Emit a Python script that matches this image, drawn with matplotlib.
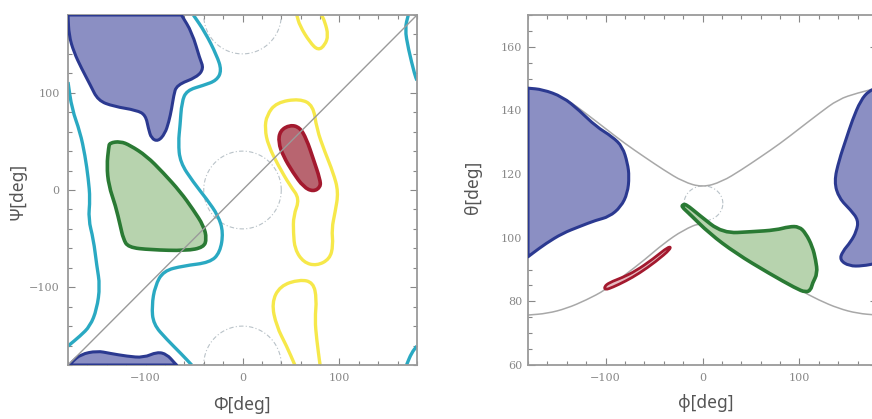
import numpy as np
import matplotlib
matplotlib.use("Agg")
import matplotlib.pyplot as plt
from matplotlib.ticker import MultipleLocator
from matplotlib.path import Path
from matplotlib.patches import PathPatch

# ---------------- Left panel: (Phi, Psi) in degrees ----------------
blue_top = [(-180, 180), (-63, 180), (-52, 162), (-44, 135), (-40, 125), (-47, 116),
            (-68, 108), (-71, 97), (-73, 84), (-76, 70), (-80, 58), (-87, 50),
            (-94, 53), (-97, 63), (-100, 77), (-109, 82), (-133, 86), (-149, 92),
            (-157, 108), (-166, 125), (-174, 142), (-179, 159)]
blue_bottom = [(-178, -180), (-176, -177), (-167, -169), (-150, -165.5), (-137, -168),
               (-119, -171), (-102, -172.5), (-88, -166.5), (-78, -169), (-70, -178), (-68, -180)]
green_left = [(-137, 48.5), (-126, 50), (-116, 46), (-99, 35), (-82, 18), (-64, -2),
              (-51, -20), (-40, -37), (-37, -50), (-40, -59), (-58, -62.5), (-95, -61.5),
              (-118, -59), (-123, -50), (-126, -37), (-131, -16), (-138, 4.5), (-140, 25),
              (-138, 44)]
red_left = [(49, 67), (59, 64.5), (66, 52.5), (73, 32), (80, 11), (80.5, 3), (73, -1.7),
            (63, 3), (52, 18), (42, 35), (37, 49), (38.7, 61)]
yellow_mid = [(25, 77), (35, 90), (59, 94), (73, 87), (76.5, 63), (85, 39), (93.5, 18),
              (99, -2), (95.5, -23), (92, -40), (93.5, -57), (90, -71), (76.5, -78),
              (63, -74.5), (54, -61), (52.5, -44), (52.5, -26.5), (59, -9), (49, 4.5),
              (37, 25), (26.5, 46), (23, 63)]
yellow_top = [(56, 180), (59, 169), (69.5, 152), (78, 143.5), (85, 149), (88.5, 159),
              (85, 173), (81.5, 180)]
yellow_bottom = [(54, -180), (45.5, -160.5), (35, -140), (30, -116), (38.7, -98.6),
                 (59, -92), (73, -95), (76.5, -112), (74.7, -133), (76.5, -153.6), (80, -180)]
cyan_left = [(-180, 111), (-176, 83.5), (-167.5, 59.5), (-162.4, 35.4), (-159, 11.3),
             (-157.2, -9.3), (-159, -30), (-153.8, -50.5), (-150.3, -78), (-147, -98.6),
             (-150.3, -122.7), (-157.2, -140), (-167.5, -150.2), (-180, -160.5)]
cyan_mid = [(-50.7, 180), (-38.7, 162.5), (-26.6, 138.5), (-21.5, 123), (-26.6, 112.7),
            (-40.4, 107.6), (-57.6, 102.4), (-62.7, 90.4), (-64.4, 66.3), (-66.2, 49),
            (-64.4, 28.5), (-50.7, 8), (-37, -9.3), (-25, -26.5), (-19.8, -43.6),
            (-23.2, -64.3), (-33.5, -74.6), (-61, -78), (-81.6, -83.2), (-90.2, -98.6),
            (-93.6, -119.2), (-92, -138), (-78.2, -153.6), (-62.7, -169), (-52.4, -180)]
cyan_right_top = [(171, 180), (167.5, 166), (171, 145.4), (177.8, 118), (180, 112.7)]
cyan_right_bottom = [(180, -160.5), (174.4, -167.4), (169.2, -180)]
circle_centers = [(0, 0), (0, 180), (0, -180)]
circle_radius = 40
diagonal = [(-180, -180), (180, 180)]

# ---------------- Right panel: (phi, theta) in degrees ----------------
bound_phi = [-180, -160, -140, -120, -100, -80, -60, -40, -20, 0,
             20, 40, 60, 80, 100, 120, 140, 160, 180]
bound_upper = [147, 145.5, 143.5, 139, 134.3, 129.6, 125.4, 121.3, 117.6, 115.8,
               117.6, 121.3, 125.4, 129.6, 134.3, 139, 143.5, 145.5, 147]
bound_lower = [75.7, 76.2, 77.8, 80.4, 83.6, 88.3, 93, 98.2, 102.4, 105,
               102.4, 98.2, 93, 88.3, 83.6, 80.4, 77.8, 76.2, 75.7]
blue_r_left = [(-180, 147), (-165, 146.6), (-144.3, 144.3), (-127, 140), (-110, 135),
               (-92.8, 131.7), (-82.5, 128.6), (-77.3, 123.4), (-75.6, 119.2),
               (-77.3, 114), (-84.2, 109.7), (-96.2, 106.6), (-110, 105.5),
               (-127, 103.5), (-144.3, 101.4), (-161.5, 98.2), (-175.3, 95.1), (-180, 94)]
blue_r_right = [(180, 147), (171.8, 146.2), (163.2, 143.2), (154.6, 137), (147.8, 130.7),
                (140.9, 124.4), (135.7, 117.6), (140.9, 112.4), (152.9, 108.7),
                (160.8, 105.5), (158.8, 102), (152.9, 98.7), (144.3, 95.6), (141.6, 93),
                (151.2, 91.1), (165, 91.1), (180, 92)]
red_right = [(-101.4, 84.6), (-96.2, 85.9), (-82.5, 87.5), (-68.7, 89.6), (-51.5, 93.2),
             (-34.4, 97.4), (-32.3, 96.6), (-48.1, 92.5), (-65.3, 88.8), (-79, 86.4),
             (-92.8, 84.4), (-100.3, 83.6)]
green_right = [(-20.6, 110.3), (-17.2, 110.6), (-3.4, 107.1), (20.6, 101.4), (51.5, 101.9),
               (75.6, 102.4), (89.3, 103.5), (99.7, 103.5), (106.5, 101.4), (113.4, 97.2),
               (116.8, 93), (118.6, 88.8), (113.4, 85.7), (111.7, 83.6), (106.5, 82.8),
               (96.2, 84.1), (68.7, 88.8), (34.4, 95.1), (6.9, 101.4), (-13.7, 107.6),
               (-21.3, 109.7)]
ellipse_center = (1, 110.8)
ellipse_radii = (20, 5.5)

# ---------------- styles ----------------
BLUE_F, BLUE_E = '#8b8fc3', '#2b3990'
GREEN_F, GREEN_E = '#b7d3ae', '#2a7a34'
RED_F, RED_E = '#b86570', '#a3192e'
CYAN = '#2aa9c2'
YELLOW = '#f6e84a'
GREY = '#a8a8a8'
CIRC = '#b9c2c8'
TICKC = '#888888'
LABC = '#555555'

fig = plt.figure(figsize=(8.72, 4.19), dpi=100)
ax1 = fig.add_axes([68/872, 54/419, 349/872, 350/419])
ax2 = fig.add_axes([528/872, 54/419, 349/872, 350/419])


def smooth_path(pts, closed, is_corner):
    """Quadratic-Bezier path through the midpoints of the read vertices;
    vertices on the plot frame are kept as sharp corners."""
    P = [np.asarray(p, float) for p in pts]
    Q = []
    for p in P:
        Q.append(p)
        if is_corner(p):
            Q.append(p)
    n = len(Q)
    verts, codes = [], []
    if closed:
        start = (Q[-1] + Q[0]) / 2
        verts.append(start); codes.append(Path.MOVETO)
        for i in range(n):
            nxt = Q[(i + 1) % n]
            verts += [Q[i], (Q[i] + nxt) / 2]
            codes += [Path.CURVE3, Path.CURVE3]
        verts.append(start); codes.append(Path.CLOSEPOLY)
    else:
        verts.append(Q[0]); codes.append(Path.MOVETO)
        verts.append((Q[0] + Q[1]) / 2); codes.append(Path.LINETO)
        for i in range(1, n - 1):
            verts += [Q[i], (Q[i] + Q[i + 1]) / 2]
            codes += [Path.CURVE3, Path.CURVE3]
        verts.append(Q[-1]); codes.append(Path.LINETO)
    return Path(np.array(verts), codes)


def corner_left(p):
    return abs(p[0]) >= 180 or abs(p[1]) >= 180


def corner_right(p):
    return abs(p[0]) >= 180


def region(ax, pts, fc, ec, corner, lw=2.2):
    path = smooth_path(pts, True, corner)
    ax.add_patch(PathPatch(path, facecolor=fc, edgecolor=ec, lw=lw, zorder=3,
                           joinstyle='round'))


def loop(ax, pts, c, corner, lw=2.4):
    path = smooth_path(pts, True, corner)
    ax.add_patch(PathPatch(path, facecolor='none', edgecolor=c, lw=lw, zorder=2))


def line(ax, pts, c, corner, lw=2.4, z=2):
    path = smooth_path(pts, False, corner)
    ax.add_patch(PathPatch(path, facecolor='none', edgecolor=c, lw=lw, zorder=z,
                           capstyle='butt', joinstyle='round'))


# left panel
t = np.linspace(0, 2*np.pi, 200)
for cx, cy in circle_centers:
    ax1.plot(cx + circle_radius*np.cos(t), cy + circle_radius*np.sin(t), color=CIRC,
             lw=0.8, ls=(0, (4, 2, 1, 2)), zorder=1)
dx, dy = zip(*diagonal)
ax1.plot(dx, dy, color='#9a9a9a', lw=1.0, zorder=4)
for pts in (cyan_left, cyan_mid, cyan_right_top, cyan_right_bottom):
    line(ax1, pts, CYAN, corner_left)
loop(ax1, yellow_mid, YELLOW, corner_left)
for pts in (yellow_top, yellow_bottom):
    line(ax1, pts, YELLOW, corner_left)
region(ax1, blue_top, BLUE_F, BLUE_E, corner_left)
region(ax1, blue_bottom, BLUE_F, BLUE_E, corner_left)
region(ax1, green_left, GREEN_F, GREEN_E, corner_left, lw=2.6)
region(ax1, red_left, RED_F, RED_E, corner_left, lw=2.6)
ax1.set_xlim(-180, 180)
ax1.set_ylim(-180, 180)
ax1.xaxis.set_major_locator(MultipleLocator(100))
ax1.xaxis.set_minor_locator(MultipleLocator(20))
ax1.yaxis.set_major_locator(MultipleLocator(100))
ax1.yaxis.set_minor_locator(MultipleLocator(20))

# right panel
line(ax2, list(zip(bound_phi, bound_upper)), GREY, corner_right, lw=1.1)
line(ax2, list(zip(bound_phi, bound_lower)), GREY, corner_right, lw=1.1)
ax2.plot(ellipse_center[0] + ellipse_radii[0]*np.cos(t),
         ellipse_center[1] + ellipse_radii[1]*np.sin(t),
         color=CIRC, lw=0.8, ls=(0, (4, 2, 1, 2)), zorder=1)
region(ax2, blue_r_left, BLUE_F, BLUE_E, corner_right)
region(ax2, blue_r_right, BLUE_F, BLUE_E, corner_right)
region(ax2, red_right, '#e6b9bf', RED_E, corner_right, lw=2.0)
region(ax2, green_right, GREEN_F, GREEN_E, corner_right, lw=2.6)
ax2.set_xlim(-180, 180)
ax2.set_ylim(60, 170)
ax2.xaxis.set_major_locator(MultipleLocator(100))
ax2.xaxis.set_minor_locator(MultipleLocator(20))
ax2.yaxis.set_major_locator(MultipleLocator(20))
ax2.yaxis.set_minor_locator(MultipleLocator(5))

for ax, ypad in ((ax1, 6), (ax2, 4)):
    for s in ax.spines.values():
        s.set_color('#9a9a9a')
        s.set_linewidth(1.3)
    ax.tick_params(which='both', direction='in', top=True, right=True, color=TICKC,
                   width=0.8, labelcolor=TICKC, labelsize=8)
    ax.tick_params(which='major', length=5)
    ax.tick_params(which='minor', length=3)
    ax.tick_params(axis='x', pad=6)
    ax.tick_params(axis='y', pad=ypad)
    for lab in ax.get_xticklabels() + ax.get_yticklabels():
        lab.set_fontfamily('DejaVu Serif')

lab_font = dict(family=['Noto Sans', 'DejaVu Sans'], size=12.5, color=LABC)
fig.text(242/872, 1 - 405/419, 'Φ[deg]', ha='center', va='center', **lab_font)
fig.text(17/872, 1 - 191/419, 'Ψ[deg]', ha='center', va='center', rotation=90, **lab_font)
fig.text(706/872, 1 - 403/419, 'φ[deg]', ha='center', va='center', **lab_font)
fig.text(473/872, 1 - 187/419, 'θ[deg]', ha='center', va='center', rotation=90, **lab_font)

fig.savefig('out.png', dpi=100)
